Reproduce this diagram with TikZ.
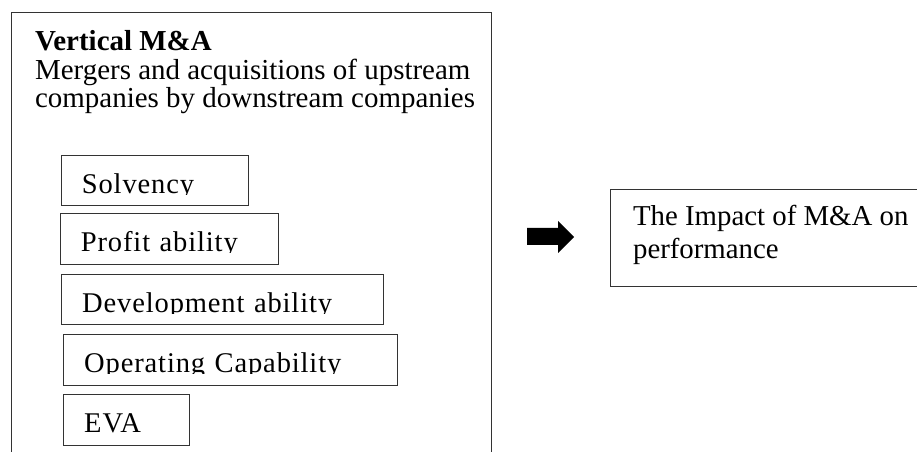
\documentclass[tikz,border=0pt]{standalone}
\usepackage{fontspec}
\setmainfont{Liberation Serif}
\newfontfamily\boxfont[LetterSpace=3]{Liberation Serif}
\usepackage{xcolor}
\definecolor{framegray}{HTML}{333333}
\definecolor{darktext}{HTML}{000000}

\tikzset{
  measurebox/.style={draw=framegray,line width=0.7pt,anchor=north west,
    inner xsep=0.51cm,inner ysep=0pt,text height=0.95cm,text depth=0.31cm,
    align=left,font=\boxfont\fontsize{20.3}{20.3}\selectfont,text=darktext}
}

\begin{document}
\begin{tikzpicture}
% picture is 917 x 452 px, 40 px = 1 cm
\useasboundingbox (0,0) rectangle (22.925,-11.3);
\clip (0,0) rectangle (22.925,-11.3);

% left frame, open at the bottom edge of the page
\node[draw=framegray,line width=0.7pt,anchor=north west,minimum width=12cm,minimum height=12cm,inner sep=0pt] (vma) at (0.275,-0.31) {};
% base of a multi-line node = last line
\node[font=\fontsize{20.6}{20.3}\selectfont,text=darktext,align=left,anchor=base west,inner sep=0pt] (vmatext) at (0.87,-2.695)
  {\textbf{Vertical M\&A}\\Mergers and acquisitions of upstream\\companies by downstream companies};

% indicators
\node[measurebox,text width=3.65cm] (solv) at (1.525,-3.875) {Solvency};
\node[measurebox,text width=4.43cm] (profit) at (1.5,-5.333) {Profit ability};
\node[measurebox,text width=7.02cm] (devel) at (1.533,-6.85) {Development ability};
\node[measurebox,text width=7.32cm] (oper) at (1.583,-8.358) {Operating Capability};
\node[measurebox,text width=2.12cm] (eva) at (1.583,-9.858) {EVA};
% descenders are cut off just under the baseline
\foreach \b in {solv,profit,devel,oper,eva}
  \fill[white] ([shift={(0.03cm,-0.035cm)}]\b.base west) rectangle ([shift={(-0.03cm,0.03cm)}]\b.south east);

% result box, open at the right edge of the page
\node[draw=framegray,line width=0.7pt,anchor=north west,minimum width=8.5cm,minimum height=2.425cm,inner sep=0pt] (impact) at (15.25,-4.725) {};
\node[font=\fontsize{20.5}{23.7}\selectfont,text=darktext,align=left,anchor=base west,inner sep=0pt] (impacttext) at (15.82,-6.46)
  {The Impact of M\&A on\\performance};

% block arrow
\fill[black] (13.175,-5.7) -- (13.95,-5.7) -- (13.95,-5.525) -- (14.35,-5.925)
  -- (13.95,-6.325) -- (13.95,-6.125) -- (13.175,-6.125) -- cycle;
\end{tikzpicture}
\end{document}
